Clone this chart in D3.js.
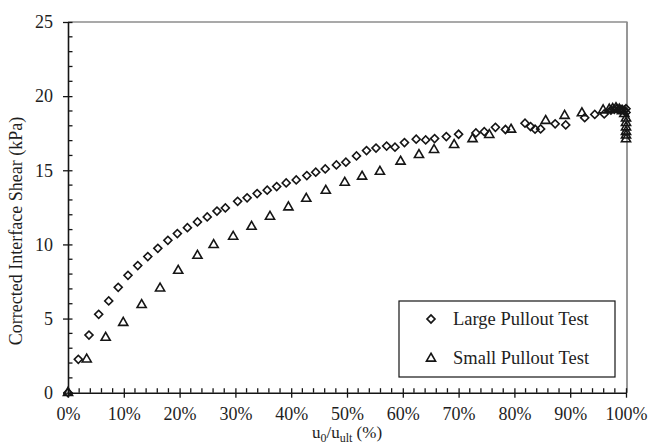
<!DOCTYPE html>
<html>
<head>
<meta charset="utf-8">
<script src="https://cdn.jsdelivr.net/npm/d3@7/dist/d3.min.js"></script>
<style>
  html, body { margin: 0; padding: 0; background: #fff; }
  svg { display: block; font-family: "Liberation Serif", "Times New Roman", serif; }
</style>
</head>
<body>
<svg id="chart" width="649" height="444"></svg>
<script>
// Displacement ratio u0/u_ult (%) vs. corrected interface shear (kPa)
const largePullout = [
  [0, 0], [1.85, 2.25], [3.76, 3.89], [5.5, 5.29], [7.3, 6.19], [9.0, 7.11],
  [10.75, 7.92], [12.5, 8.57], [14.3, 9.18], [16.1, 9.74], [17.9, 10.28],
  [19.6, 10.73], [21.4, 11.13], [23.2, 11.52], [24.95, 11.85], [26.7, 12.25],
  [28.2, 12.46], [30.4, 12.91], [32.1, 13.14], [33.9, 13.43], [35.7, 13.66],
  [37.4, 13.9], [39.1, 14.15], [40.9, 14.35], [42.8, 14.64], [44.4, 14.87],
  [46.1, 15.09], [48.1, 15.36], [49.8, 15.55], [51.7, 15.97], [53.5, 16.33],
  [55.2, 16.5], [57.1, 16.63], [58.6, 16.56], [60.3, 16.87], [62.4, 17.1],
  [64.1, 17.05], [65.7, 17.14], [67.8, 17.27], [70.0, 17.43], [73.1, 17.52],
  [74.6, 17.6], [76.6, 17.9], [78.4, 17.75], [81.9, 18.18], [82.9, 17.95],
  [83.7, 17.77], [84.7, 17.79], [87.3, 18.13], [89.2, 18.06], [92.6, 18.55],
  [94.4, 18.77], [96.1, 18.8], [97.3, 19.05], [97.9, 19.1], [98.4, 19.15],
  [98.9, 19.12], [99.3, 19.1], [99.7, 19.05], [100, 19.15], [100, 18.9]
];

const smallPullout = [
  [0, 0], [3.35, 2.25], [6.75, 3.71], [9.9, 4.72], [13.2, 5.92], [16.5, 7.04],
  [19.75, 8.23], [23.2, 9.24], [26.1, 9.97], [29.6, 10.53], [32.9, 11.2],
  [36.2, 11.88], [39.5, 12.51], [42.7, 13.09], [46.2, 13.63], [49.6, 14.17],
  [52.7, 14.58], [55.9, 14.91], [59.6, 15.59], [62.9, 16.04], [65.6, 16.38],
  [69.2, 16.71], [72.5, 17.11], [75.5, 17.39], [79.4, 17.75], [85.6, 18.34],
  [89.0, 18.68], [92.1, 18.85], [95.9, 19.05], [97.0, 19.1], [97.6, 19.15],
  [98.2, 19.2], [98.8, 19.1], [99.3, 19.0], [99.7, 18.8], [100, 18.5],
  [100, 18.2], [100, 17.9], [100, 17.6], [100, 17.35], [100, 17.1]
];

const seriesNames = ["Large Pullout Test", "Small Pullout Test"];
const xTickValues = [0, 10, 20, 30, 40, 50, 60, 70, 80, 90, 100];
const yTickValues = [0, 5, 10, 15, 20, 25];

const svg = d3.select("#chart");
const plotLeft = 68, plotRight = 626, plotTop = 22, plotBottom = 392.7;
const ink = "#151515";
const textInk = "#1e1e1e";
const serif = "Liberation Serif, Times New Roman, serif";

const x = d3.scaleLinear().domain([0, 100]).range([plotLeft, plotRight]);
const y = d3.scaleLinear().domain([0, 25]).range([plotBottom, plotTop]);

// Frame: grey top and right edges
svg.append("line").attr("x1", plotLeft).attr("x2", plotRight + 1.5)
  .attr("y1", plotTop).attr("y2", plotTop)
  .attr("stroke", "#8c8c8c").attr("stroke-width", 1.3);
svg.append("line").attr("x1", plotRight + 1).attr("x2", plotRight + 1)
  .attr("y1", plotTop).attr("y2", plotBottom)
  .attr("stroke", "#8c8c8c").attr("stroke-width", 1.8);

// Minor ticks (inside)
const xMinor = d3.range(0, 101, 2).filter(v => v % 10 !== 0);
svg.append("g").selectAll("line").data(xMinor).join("line")
  .attr("x1", d => x(d)).attr("x2", d => x(d))
  .attr("y1", plotBottom).attr("y2", plotBottom - 4.5)
  .attr("stroke", ink).attr("stroke-width", 1.3);
const yMinor = d3.range(0, 26, 1).filter(v => v % 5 !== 0);
svg.append("g").selectAll("line").data(yMinor).join("line")
  .attr("x1", plotLeft).attr("x2", plotLeft + 4.5)
  .attr("y1", d => y(d)).attr("y2", d => y(d))
  .attr("stroke", ink).attr("stroke-width", 1.3);

// X axis
const xAxis = d3.axisBottom(x).tickValues(xTickValues)
  .tickFormat(d => d + "%").tickSizeInner(5).tickSizeOuter(0).tickPadding(10);
const gx = svg.append("g").attr("transform", `translate(0,${plotBottom})`).call(xAxis);
gx.attr("font-family", serif);
gx.select(".domain").attr("stroke", ink).attr("stroke-width", 1.6);
gx.selectAll(".tick line").attr("stroke", ink).attr("stroke-width", 1.3).attr("y1", -4.5);
gx.selectAll(".tick text").attr("fill", textInk).attr("font-size", 18);

// Y axis
const yAxis = d3.axisLeft(y).tickValues(yTickValues)
  .tickSizeInner(5).tickSizeOuter(0).tickPadding(10);
const gy = svg.append("g").attr("transform", `translate(${plotLeft},0)`).call(yAxis);
gy.attr("font-family", serif);
gy.select(".domain").attr("stroke", ink).attr("stroke-width", 1.6);
gy.selectAll(".tick line").attr("stroke", ink).attr("stroke-width", 1.3).attr("x1", 4.5);
gy.selectAll(".tick text").attr("fill", textInk).attr("font-size", 18);

// Axis titles
svg.append("text")
  .attr("transform", "translate(22,231) rotate(-90)")
  .attr("text-anchor", "middle").attr("font-size", 18).attr("fill", textInk)
  .text("Corrected Interface Shear (kPa)");

const xt = svg.append("text").attr("x", 347).attr("y", 438)
  .attr("text-anchor", "middle").attr("font-size", 17).attr("fill", textInk);
xt.append("tspan").text("u");
xt.append("tspan").attr("font-size", 12).attr("dy", 4).text("0");
xt.append("tspan").attr("dy", -4).text("/u");
xt.append("tspan").attr("font-size", 12).attr("dy", 4).text("ult");
xt.append("tspan").attr("dy", -4).text(" (%)");

// Markers
const diamond = d3.symbol().type(d3.symbolSquare).size(32);
const triangle = d3.symbol().type(d3.symbolTriangle).size(36);

svg.append("g").selectAll("path").data(largePullout).join("path")
  .attr("d", diamond)
  .attr("transform", d => `translate(${x(d[0])},${y(d[1])}) rotate(45)`)
  .attr("fill", "none").attr("stroke", ink).attr("stroke-width", 1.6);

svg.append("g").selectAll("path").data(smallPullout).join("path")
  .attr("d", triangle)
  .attr("transform", d => `translate(${x(d[0])},${y(d[1])})`)
  .attr("fill", "none").attr("stroke", ink).attr("stroke-width", 1.6);

// Legend
const lg = svg.append("g");
lg.append("rect").attr("x", 399).attr("y", 301).attr("width", 216).attr("height", 76)
  .attr("fill", "#fff").attr("stroke", ink).attr("stroke-width", 1.2);
lg.append("path").attr("d", diamond)
  .attr("transform", "translate(431,319) rotate(45)")
  .attr("fill", "none").attr("stroke", ink).attr("stroke-width", 1.6);
lg.append("path").attr("d", triangle)
  .attr("transform", "translate(431,358.5)")
  .attr("fill", "none").attr("stroke", ink).attr("stroke-width", 1.6);
lg.selectAll("text").data(seriesNames).join("text")
  .attr("x", 453).attr("y", (d, i) => 325 + i * 38.5)
  .attr("font-size", 18.5).attr("fill", textInk).text(d => d);
</script>
</body>
</html>
